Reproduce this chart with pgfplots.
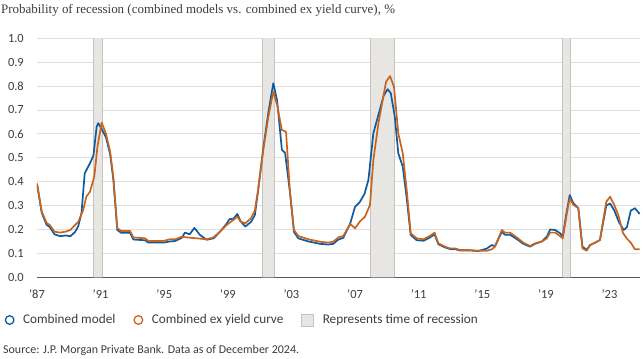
\documentclass[border=0pt]{standalone}
\usepackage{fontspec}
\setmainfont{Liberation Serif}
\newfontfamily\cfont{Carlito}
\usepackage{pgfplots}
\usepackage{pgfplotstable}
\pgfplotsset{compat=1.18}
\definecolor{jpblue}{HTML}{0F5A9E}
\definecolor{jporange}{HTML}{C8641E}
\definecolor{recfill}{HTML}{E8E6E3}
\definecolor{recedge}{HTML}{C6C2BE}
\definecolor{gridc}{HTML}{DEDEDE}
\definecolor{txt}{HTML}{3C3C3C}

\pgfplotstableread{
x y
1987.0 0.393
1987.3 0.274
1987.6 0.228
1987.8 0.219
1988.1 0.191
1988.45 0.187
1988.8 0.191
1989.1 0.198
1989.4 0.219
1989.6 0.233
1989.9 0.28
1990.1 0.337
1990.33 0.358
1990.6 0.42
1990.8 0.546
1991.07 0.647
1991.34 0.60
1991.6 0.525
1991.8 0.42
1992.05 0.205
1992.3 0.194
1992.85 0.194
1993.06 0.167
1993.8 0.163
1994.0 0.152
1994.95 0.152
1995.36 0.159
1995.7 0.159
1996.1 0.17
1996.4 0.167
1997.04 0.163
1997.67 0.159
1998.1 0.167
1998.5 0.191
1998.93 0.219
1999.35 0.24
1999.6 0.254
1999.8 0.233
2000.1 0.226
2000.46 0.247
2000.7 0.28
2000.9 0.365
2001.23 0.533
2001.55 0.672
2001.86 0.777
2002.1 0.721
2002.4 0.616
2002.66 0.609
2002.9 0.365
2003.16 0.198
2003.43 0.173
2004.06 0.159
2004.8 0.149
2005.32 0.145
2005.63 0.149
2005.95 0.167
2006.26 0.173
2006.7 0.223
2007.0 0.205
2007.3 0.233
2007.63 0.254
2007.94 0.303
2008.15 0.49
2008.47 0.644
2008.95 0.818
2009.2 0.842
2009.45 0.797
2009.72 0.602
2010.0 0.519
2010.25 0.365
2010.5 0.184
2010.88 0.163
2011.3 0.159
2011.7 0.173
2012.0 0.187
2012.24 0.142
2012.66 0.128
2012.97 0.121
2013.3 0.121
2013.6 0.114
2014.23 0.114
2014.75 0.111
2015.28 0.111
2015.6 0.117
2015.8 0.128
2016.23 0.198
2016.43 0.187
2016.75 0.187
2017.17 0.167
2017.58 0.145
2018.0 0.131
2018.32 0.142
2018.74 0.149
2019.06 0.163
2019.27 0.187
2019.58 0.187
2019.8 0.177
2020.06 0.163
2020.3 0.26
2020.5 0.33
2020.73 0.303
2021.04 0.289
2021.3 0.121
2021.57 0.111
2021.78 0.135
2022.1 0.145
2022.4 0.156
2022.8 0.316
2023.04 0.337
2023.3 0.303
2023.56 0.26
2023.84 0.187
2024.08 0.163
2024.34 0.145
2024.6 0.117
2024.9 0.117
}\exyield

\pgfplotstableread{
x y
1987.0 0.39
1987.3 0.27
1987.6 0.22
1987.8 0.21
1988.1 0.18
1988.45 0.172
1988.8 0.175
1989.1 0.172
1989.4 0.19
1989.6 0.215
1989.8 0.27
1990.0 0.435
1990.33 0.477
1990.55 0.51
1990.75 0.63
1990.85 0.645
1991.07 0.62
1991.34 0.585
1991.6 0.515
1991.8 0.41
1992.05 0.198
1992.3 0.186
1992.85 0.186
1993.06 0.158
1993.8 0.155
1994.0 0.145
1994.95 0.145
1995.36 0.15
1995.7 0.152
1996.1 0.165
1996.3 0.187
1996.6 0.18
1996.9 0.207
1997.25 0.177
1997.67 0.157
1998.1 0.163
1998.5 0.19
1998.93 0.225
1999.1 0.243
1999.35 0.245
1999.6 0.265
1999.8 0.235
2000.1 0.212
2000.46 0.232
2000.7 0.26
2000.9 0.36
2001.23 0.54
2001.55 0.69
2001.86 0.812
2002.1 0.74
2002.4 0.533
2002.6 0.521
2002.9 0.36
2003.16 0.19
2003.43 0.163
2004.06 0.15
2004.8 0.14
2005.32 0.137
2005.63 0.14
2005.95 0.158
2006.26 0.165
2006.7 0.226
2007.0 0.295
2007.3 0.315
2007.6 0.35
2007.84 0.407
2008.15 0.602
2008.47 0.68
2008.8 0.76
2009.05 0.787
2009.25 0.77
2009.5 0.672
2009.72 0.519
2010.0 0.463
2010.25 0.33
2010.5 0.177
2010.88 0.155
2011.3 0.153
2011.7 0.166
2012.0 0.18
2012.24 0.138
2012.66 0.125
2012.97 0.118
2013.3 0.118
2013.6 0.112
2014.23 0.112
2014.75 0.11
2015.28 0.12
2015.6 0.135
2015.8 0.13
2016.23 0.19
2016.43 0.178
2016.75 0.178
2017.17 0.16
2017.58 0.14
2018.0 0.128
2018.32 0.14
2018.74 0.15
2019.06 0.17
2019.27 0.2
2019.58 0.198
2019.9 0.184
2020.06 0.17
2020.3 0.27
2020.5 0.344
2020.73 0.31
2021.04 0.29
2021.3 0.128
2021.57 0.115
2021.78 0.135
2022.1 0.145
2022.4 0.156
2022.8 0.3
2023.04 0.309
2023.3 0.28
2023.6 0.23
2023.9 0.198
2024.1 0.21
2024.34 0.279
2024.6 0.289
2024.9 0.265
}\combined

\begin{document}
\begin{tikzpicture}
\path[use as bounding box] (0,0) rectangle (643bp,359bp);
\node[anchor=west, font=\fontsize{13}{15}\selectfont, text=txt, inner sep=0pt] at (1bp,349bp)
  {Probability of recession (combined models vs. combined ex yield curve), \%};
\node[anchor=west, font=\cfont\fontsize{12}{14}\selectfont, text=txt, inner sep=0pt] at (3bp,8.5bp)
  {Source: J.P. Morgan Private Bank. Data as of December 2024.};
\begin{axis}[
  at={(37bp,81.7bp)}, anchor=south west, scale only axis,
  width=603bp, height=239bp,
  xmin=1987, xmax=2024.92, ymin=0, ymax=1,
  axis x line=bottom, axis y line=left,
  y axis line style={draw=none},
  x axis line style={-, draw=black!65, line width=0.8pt},
  ytick={0,0.1,0.2,0.3,0.4,0.5,0.6,0.7,0.8,0.9,1.0},
  y tick label style={/pgf/number format/fixed, /pgf/number format/fixed zerofill, /pgf/number format/precision=1},
  /pgf/number format/assume math mode=true,
  ymajorgrids, grid style={gridc, line width=0.9pt},
  major tick length=0pt,
  xtick={1987,1991,1995,1999,2003,2007,2011,2015,2019,2023},
  xticklabels={’87,’91,’95,’99,’03,’07,’11,’15,’19,’23},
  tick label style={font=\cfont\fontsize{12.5}{14}\selectfont, text=txt},
  yticklabel style={anchor=east, inner sep=0pt, xshift=-13bp},
  xticklabel style={anchor=center, inner sep=0pt, yshift=-16.7bp},
  legend columns=3,
  legend style={at={(axis description cs:-0.0539,-0.1787)}, anchor=west, draw=none, fill=none,
    inner sep=0pt, font=\cfont\fontsize{13.3}{15}\selectfont, text=txt,
    nodes={inner sep=0pt},
    /tikz/every odd column/.append style={column sep=8.5bp},
    /tikz/every even column/.append style={column sep=18bp}},
  legend cell align=left,
]
% recession bands
\addplot[draw=none, fill=recfill, forget plot] coordinates {(1990.54,0) (1990.54,1) (1991.11,1) (1991.11,0)} \closedcycle;
\addplot[draw=none, fill=recfill, forget plot] coordinates {(2001.17,0) (2001.17,1) (2001.91,1) (2001.91,0)} \closedcycle;
\addplot[draw=none, fill=recfill, forget plot] coordinates {(2007.99,0) (2007.99,1) (2009.47,1) (2009.47,0)} \closedcycle;
\addplot[draw=none, fill=recfill, forget plot] coordinates {(2020.06,0) (2020.06,1) (2020.56,1) (2020.56,0)} \closedcycle;
\addplot[recedge, line width=1.1pt, forget plot] coordinates {(1990.54,0) (1990.54,1)};
\addplot[recedge, line width=1.1pt, forget plot] coordinates {(1991.11,0) (1991.11,1)};
\addplot[recedge, line width=1.1pt, forget plot] coordinates {(2001.17,0) (2001.17,1)};
\addplot[recedge, line width=1.1pt, forget plot] coordinates {(2001.91,0) (2001.91,1)};
\addplot[recedge, line width=1.1pt, forget plot] coordinates {(2007.99,0) (2007.99,1)};
\addplot[recedge, line width=1.1pt, forget plot] coordinates {(2009.47,0) (2009.47,1)};
\addplot[recedge, line width=1.1pt, forget plot] coordinates {(2020.06,0) (2020.06,1)};
\addplot[recedge, line width=1.1pt, forget plot] coordinates {(2020.56,0) (2020.56,1)};
% series
\addplot[jpblue, line width=1.7pt, line join=round, forget plot] table[x=x, y=y] {\combined};
\addplot[jporange, line width=1.7pt, line join=round, forget plot] table[x=x, y=y] {\exyield};
% legend
\addlegendimage{legend image code/.code={\draw[jpblue, line width=1.3pt] (0bp,0bp) circle (4.3bp);}}
\addlegendentry{Combined model}
\addlegendimage{legend image code/.code={\draw[jporange, line width=1.3pt] (0bp,0bp) circle (4.3bp);}}
\addlegendentry{Combined ex yield curve}
\addlegendimage{legend image code/.code={\draw[recedge, fill=recfill, line width=0.8pt] (-6bp,-6bp) rectangle (6bp,6bp);}}
\addlegendentry{Represents time of recession}
\end{axis}
\end{tikzpicture}
\end{document}
